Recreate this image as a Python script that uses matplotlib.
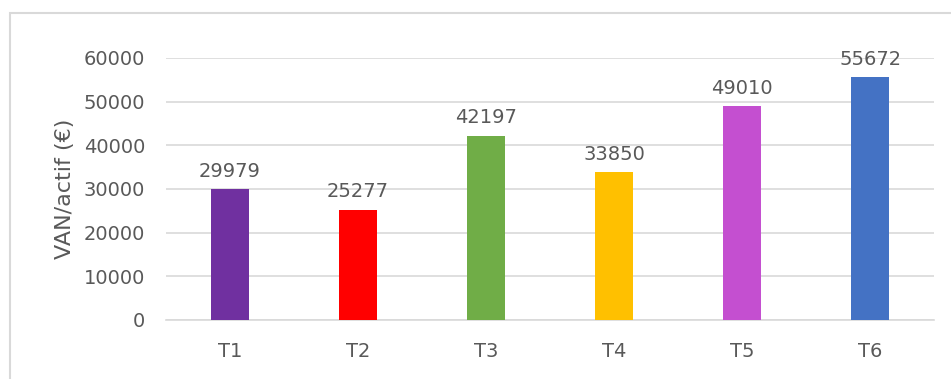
import matplotlib
matplotlib.use("Agg")
import matplotlib.pyplot as plt
from matplotlib.patches import Rectangle

# Données : VAN par actif pour chaque traitement
traitements = ["T1", "T2", "T3", "T4", "T5", "T6"]
van_actif = [29979, 25277, 42197, 33850, 49010, 55672]
couleurs = ["#7030a0", "#ff0000", "#70ad47", "#ffc000", "#c44fd0", "#4472c4"]
graduations = [0, 10000, 20000, 30000, 40000, 50000, 60000]

gris_texte = "#595959"
gris_ligne = "#d9d9d9"

fig = plt.figure(figsize=(9.51, 3.79), dpi=100)
ax = fig.add_axes([0.1746, 0.1557, 0.8076, 0.6913])

x = range(len(traitements))
ax.bar(x, van_actif, width=0.30, color=couleurs, zorder=3)

for xi, v in zip(x, van_actif):
    ax.annotate(str(v), (xi, v), xytext=(0, 6), textcoords="offset points",
                ha="center", va="bottom", fontsize=14, color=gris_texte)

ax.set_xlim(-0.5, len(traitements) - 0.5)
ax.set_ylim(0, 60000)
ax.set_yticks(graduations)
ax.set_yticklabels([str(g) for g in graduations])
ax.set_xticks(list(x))
ax.set_xticklabels(traitements)
ax.tick_params(axis="both", length=0, labelsize=14, labelcolor=gris_texte)
ax.tick_params(axis="y", pad=15)
ax.tick_params(axis="x", pad=16)

ax.grid(axis="y", color=gris_ligne, linewidth=1.2, zorder=0)
for s in ["top", "right", "left"]:
    ax.spines[s].set_visible(False)
ax.spines["bottom"].set_color(gris_ligne)
ax.spines["bottom"].set_linewidth(1.2)

ax.set_ylabel("VAN/actif (€)", fontsize=16, color=gris_texte, labelpad=6)

# cadre du graphique (ouvert à droite et en bas)
fig.patches.append(Rectangle((10 / 951, -0.1), 1.0, 1.1 - 13 / 379,
                             transform=fig.transFigure, fill=False,
                             edgecolor=gris_ligne, linewidth=1.5))

fig.savefig("out.png", dpi=100)
